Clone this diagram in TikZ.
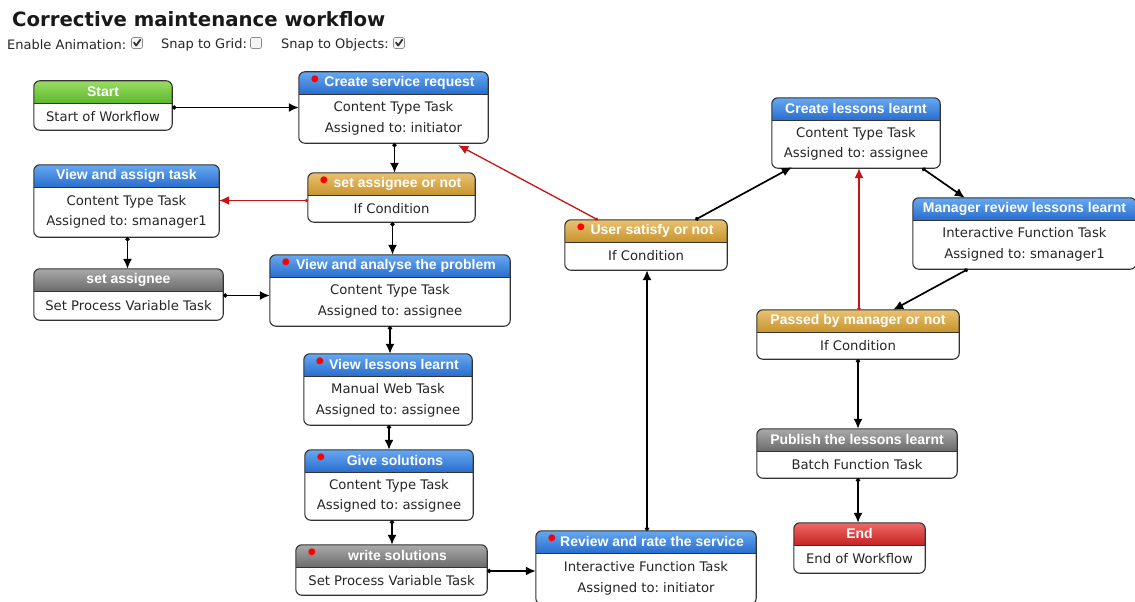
\documentclass[tikz,border=0pt]{standalone}
\usepackage{fontspec}
\setmainfont{DejaVu Sans}
\newfontfamily\hdrfont{Liberation Sans}
\usetikzlibrary{arrows.meta,calc}
\frenchspacing

\definecolor{blueT}{HTML}{66A8F0}\definecolor{blueB}{HTML}{2A6ECF}
\definecolor{grnT}{HTML}{9ADC66}\definecolor{grnB}{HTML}{5DB82C}
\definecolor{orgT}{HTML}{EAC272}\definecolor{orgB}{HTML}{C8952E}
\definecolor{gryT}{HTML}{AAAAAA}\definecolor{gryB}{HTML}{6C6C6C}
\definecolor{redT}{HTML}{EE6A6A}\definecolor{redB}{HTML}{C62424}
\definecolor{edge}{HTML}{333333}
\definecolor{flowred}{HTML}{C81414}

\tikzset{
  frame/.style={fill=white, draw=none, rounded corners=6pt, inner sep=0pt},
  border/.style={draw=edge, line width=1.1pt, rounded corners=6pt},
  hdrtext/.style={font=\hdrfont\bfseries\fontsize{14}{16}\selectfont, text=white, inner sep=0pt},
  bodytext/.style={font=\fontsize{13.2}{20.5}\selectfont, align=center, inner sep=0pt, text=black!85},
  opttext/.style={anchor=west, inner sep=0pt, font=\fontsize{13}{15}\selectfont, text=black!85},
  hblue/.style={top color=blueT, bottom color=blueB},
  hgreen/.style={top color=grnT, bottom color=grnB},
  horange/.style={top color=orgT, bottom color=orgB},
  hgray/.style={top color=gryT, bottom color=gryB},
  hred/.style={top color=redT, bottom color=redB},
  flow/.style={line width=1.7pt, black, {Circle[length=4pt]}-{Latex[length=10pt,width=9pt]}},
  redflow/.style={line width=1.3pt, flowred, {Circle[length=3pt]}-{Latex[length=10pt,width=9pt]}},
  checkbox/.style={draw=black!45, fill=black!4, rounded corners=1.5pt, minimum size=11pt, inner sep=0pt, line width=0.6pt},
  checkmark/.style={line width=1.8pt, black!80, line cap=round, line join=round},
}

% #1 name, #2-#5 x1 y1 x2 y2, #6 header style, #7 header, #8 body, #9 red marker (1/0)
\newcommand\wfbox[9]{%
  \pgfmathsetmacro\bw{#4-#2}\pgfmathsetmacro\bh{#5-#3}%
  \node[frame, minimum width=\bw pt, minimum height=\bh pt] (#1) at ({(#2+#4)/2},{(#3+#5)/2}) {};
  \begin{scope}
    \clip[rounded corners=6pt] (#1.north west) rectangle (#1.south east);
    \shade[#6] (#1.north west) rectangle ([yshift=-22pt]#1.north east);
  \end{scope}
  \draw[draw=edge, line width=0.6pt] ([yshift=-22pt]#1.north west) -- ([yshift=-22pt]#1.north east);
  \draw[border] (#1.north west) rectangle (#1.south east);
  \ifnum#9=1
    \fill[red] ([xshift=16pt,yshift=-7pt]#1.north west) circle (3.5pt);
    \node[hdrtext] at ([xshift=6pt,yshift=-11pt]#1.north) {#7};
  \else
    \node[hdrtext] at ([yshift=-11pt]#1.north) {#7};
  \fi
  \node[bodytext] at ($(#1.south)!0.5!([yshift=-22pt]#1.north)$) {#8};
}

\begin{document}
\begin{tikzpicture}[x=1pt,y=-1pt]
\useasboundingbox[fill=white] (0,0) rectangle (1135,602);

% title and options line
\node[anchor=west, inner sep=0pt, font=\bfseries\fontsize{19.7}{22}\selectfont, text=black!90] (title) at (12,19) {Corrective maintenance workflow};
\node[opttext] (opt1) at (7,45) {Enable Animation:};
\node[checkbox] (chk1) at (137,43) {};
\node[opttext] (opt2) at (161,45) {Snap to Grid:};
\node[checkbox] (chk2) at (256,43) {};
\node[opttext] (opt3) at (281,45) {Snap to Objects:};
\node[checkbox] (chk3) at (399,43) {};
\draw[checkmark] ([xshift=-3pt,yshift=0.5pt]chk1.center) -- ([xshift=-0.8pt,yshift=-2.6pt]chk1.center) -- ([xshift=3.2pt,yshift=3.2pt]chk1.center);
\draw[checkmark] ([xshift=-3pt,yshift=0.5pt]chk3.center) -- ([xshift=-0.8pt,yshift=-2.6pt]chk3.center) -- ([xshift=3.2pt,yshift=3.2pt]chk3.center);

% workflow steps
\wfbox{start}{34}{81}{172}{130}{hgreen}{Start}{Start of Workflow}{0}
\wfbox{csr}{299}{72}{488}{143}{hblue}{Create service request}{Content Type Task\\Assigned to: initiator}{1}
\wfbox{vat}{34}{165}{219}{237}{hblue}{View and assign task}{Content Type Task\\Assigned to: smanager1}{0}
\wfbox{sao}{308}{173}{475}{222}{horange}{set assignee or not}{If Condition}{1}
\wfbox{sa}{34}{269}{223}{320}{hgray}{set assignee}{Set Process Variable Task}{0}
\wfbox{vap}{270}{255}{510}{326}{hblue}{View and analyse the problem}{Content Type Task\\Assigned to: assignee}{1}
\wfbox{vll}{304}{354}{472}{425}{hblue}{View lessons learnt}{Manual Web Task\\Assigned to: assignee}{1}
\wfbox{gs}{305}{450}{473}{520}{hblue}{Give solutions}{Content Type Task\\Assigned to: assignee}{1}
\wfbox{ws}{296}{545}{487}{595}{hgray}{write solutions}{Set Process Variable Task}{1}
\wfbox{rr}{536}{531}{756}{604}{hblue}{Review and rate the service}{Interactive Function Task\\Assigned to: initiator}{1}
\wfbox{us}{565}{220}{727}{270}{horange}{User satisfy or not}{If Condition}{1}
\wfbox{cll}{772}{98}{940}{168}{hblue}{Create lessons learnt}{Content Type Task\\Assigned to: assignee}{0}
\wfbox{mrl}{913}{198}{1136}{269}{hblue}{Manager review lessons learnt}{Interactive Function Task\\Assigned to: smanager1}{0}
\wfbox{pbm}{757}{310}{959}{359}{horange}{Passed by manager or not}{If Condition}{0}
\wfbox{pub}{757}{429}{957}{478}{hgray}{Publish the lessons learnt}{Batch Function Task}{0}
\wfbox{end}{794}{523}{925}{573}{hred}{End}{End of Workflow}{0}

% connectors
\draw[flow] ([yshift=-2pt]start.east) -- ([yshift=-2pt]start.east -| csr.west);
\draw[flow] ([xshift=1pt]csr.south) -- ([xshift=1pt]csr.south |- sao.north);
\draw[redflow] ([yshift=-3pt]sao.west) -- ([yshift=-3pt]sao.west -| vat.east);
\draw[flow] ([xshift=1pt]vat.south) -- ([xshift=1pt]vat.south |- sa.north);
\draw[flow] ([yshift=-1pt]sa.east) -- ([yshift=-1pt]sa.east -| vap.west);
\draw[flow] ([xshift=1pt]sao.south) -- ([xshift=1pt]sao.south |- vap.north);
\draw[flow] (vap.south) -- (vap.south |- vll.north);
\draw[flow] ([xshift=1pt]vll.south) -- ([xshift=1pt]vll.south |- gs.north);
\draw[flow] ([xshift=3pt]gs.south) -- ([xshift=3pt]gs.south |- ws.north);
\draw[flow] ([yshift=-1pt]ws.east) -- ([yshift=-1pt]ws.east -| rr.west);
\draw[flow] ([xshift=1pt]rr.north) -- ([xshift=1pt]rr.north |- us.south);
\draw[redflow] ([xshift=33pt]us.north west) -- ([xshift=-30pt,yshift=-2pt]csr.south east);
\draw[flow] ([xshift=-32pt]us.north east) -- ([xshift=20pt,yshift=1pt]cll.south west);
\draw[flow] ([xshift=-18pt]cll.south east) -- ([xshift=52pt]mrl.north west);
\draw[flow] ([xshift=55pt]mrl.south west) -- ([xshift=-66pt]pbm.north east);
\draw[redflow] ([xshift=1pt]pbm.north) -- ([xshift=1pt]pbm.north |- cll.south);
\draw[flow] (pbm.south) -- (pbm.south |- pub.north);
\draw[flow] ([xshift=1pt]pub.south) -- ([xshift=1pt]pub.south |- end.north);
\end{tikzpicture}
\end{document}
